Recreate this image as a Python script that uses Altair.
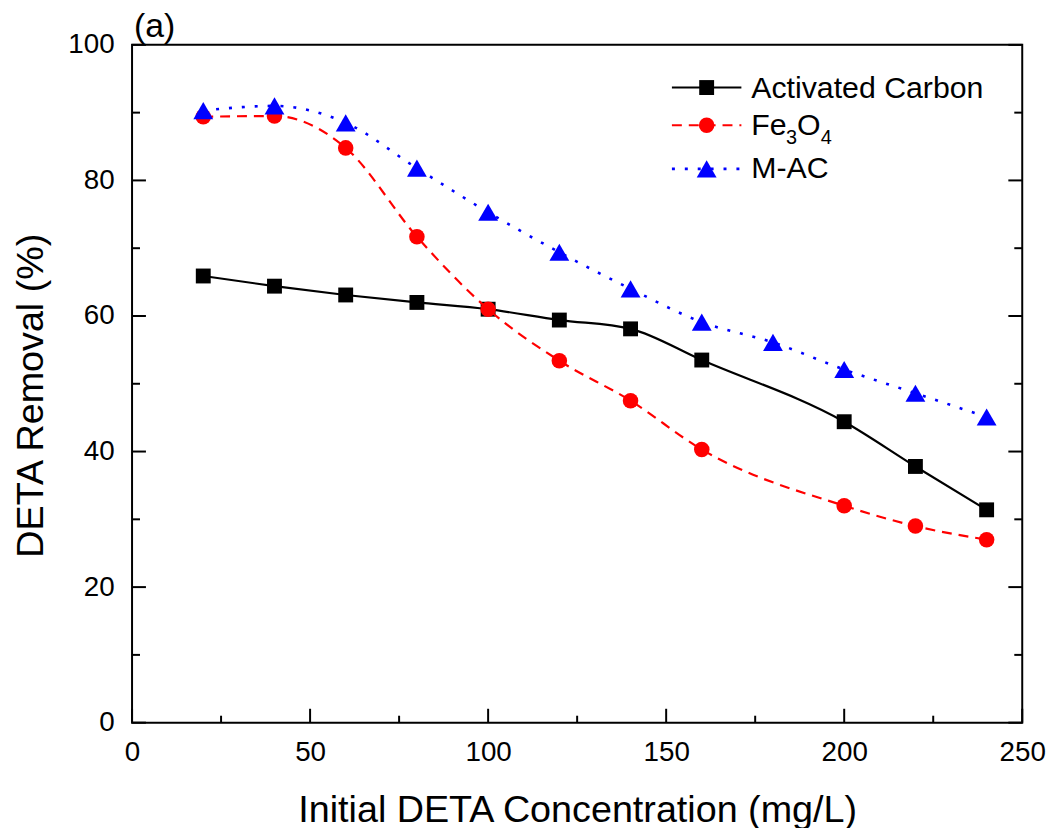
import altair as alt
import pandas as pd

# ---- data ----
conc_ac = [20, 40, 60, 80, 100, 120, 140, 160, 200, 220, 240]
removal_ac = [65.9, 64.4, 63.1, 62.0, 61.0, 59.4, 58.1, 53.5, 44.4, 37.8, 31.4]
conc_fe = [20, 40, 60, 80, 100, 120, 140, 160, 200, 220, 240]
removal_fe = [89.4, 89.5, 84.8, 71.7, 61.0, 53.4, 47.5, 40.3, 32.0, 29.0, 27.0]
conc_mac = [20, 40, 60, 80, 100, 120, 140, 160, 180, 200, 220, 240]
removal_mac = [90.3, 91.0, 88.5, 81.8, 75.3, 69.4, 64.0, 59.1, 56.1, 52.1, 48.6, 45.1]
series_names = ["Activated Carbon", "Fe3O4", "M-AC"]

x_major = [0, 50, 100, 150, 200, 250]
x_minor = [25, 75, 125, 175, 225]
y_major = [0, 20, 40, 60, 80, 100]
y_minor = [10, 30, 50, 70, 90]

W, H = 897, 683
FONT = "Liberation Sans"

xaxis = alt.Axis(values=x_major, ticks=False, domain=False, grid=False,
                 labelFlush=False, labelOverlap=False, labelPadding=16,
                 title="Initial DETA Concentration (mg/L)",
                 titleY=100, titleBaseline="alphabetic")
yaxis = alt.Axis(values=y_major, ticks=False, domain=False, grid=False,
                 labelFlush=False, labelOverlap=False, labelPadding=18,
                 title="DETA Removal (%)", titleX=-90, titleY=353,
                 titleAngle=270, titleBaseline="alphabetic")

xs = alt.Scale(domain=[0, 250], nice=False, zero=False)
ys = alt.Scale(domain=[0, 100], nice=False, zero=False)


def X():
    return alt.X("conc:Q", scale=xs, axis=xaxis)


def Y():
    return alt.Y("removal:Q", scale=ys, axis=yaxis)


# ---- tick marks (inward) ----
ytick_major = pd.DataFrame({"removal": y_major})
ytick_minor = pd.DataFrame({"removal": y_minor})
xtick_major = pd.DataFrame({"conc": x_major})
xtick_minor = pd.DataFrame({"conc": x_minor})

tick_style = dict(color="black", strokeWidth=2)
ticks = [
    alt.Chart(ytick_major).mark_rule(**tick_style).encode(y=Y(), x=alt.value(0), x2=alt.value(14)),
    alt.Chart(ytick_minor).mark_rule(**tick_style).encode(y=Y(), x=alt.value(0), x2=alt.value(8)),
    alt.Chart(ytick_major).mark_rule(**tick_style).encode(y=Y(), x=alt.value(W - 14), x2=alt.value(W)),
    alt.Chart(ytick_minor).mark_rule(**tick_style).encode(y=Y(), x=alt.value(W - 8), x2=alt.value(W)),
    alt.Chart(xtick_major).mark_rule(**tick_style).encode(x=X(), y=alt.value(H - 14), y2=alt.value(H)),
    alt.Chart(xtick_minor).mark_rule(**tick_style).encode(x=X(), y=alt.value(H - 7), y2=alt.value(H)),
]

# ---- series ----
specs = [
    (conc_ac, removal_ac, "#000000", None, 2.2, "square", 225),
    (conc_fe, removal_fe, "#ff0000", [10, 7], 2.2, "circle", 245),
    (conc_mac, removal_mac, "#0000ff", [3, 10], 2.6, "triangle-up", 400),
]

series_layers = []
for (cx, cy, col, dash, sw, shape, size), name in zip(specs, series_names):
    df = pd.DataFrame({"conc": cx, "removal": cy, "series": name})
    line_kw = dict(color=col, strokeWidth=sw, interpolate="monotone")
    if dash:
        line_kw["strokeDash"] = dash
    base = alt.Chart(df)
    series_layers.append(base.mark_line(**line_kw).encode(x=X(), y=Y()))
    series_layers.append(
        base.mark_point(filled=True, shape=shape, size=size, color=col, opacity=1)
        .encode(x=X(), y=Y())
    )

# ---- legend (drawn manually) ----
legend_layers = []
leg_rows = [43, 81, 125]
leg_text_y = [54, 91, 134]
for i, ((cx, cy, col, dash, sw, shape, size), name) in enumerate(zip(specs, series_names)):
    ldf = pd.DataFrame({"series": [name]})
    rule_kw = dict(color=col, strokeWidth=sw)
    if dash:
        rule_kw["strokeDash"] = dash
    legend_layers.append(
        alt.Chart(ldf).mark_rule(**rule_kw).encode(
            x=alt.value(544), x2=alt.value(614), y=alt.value(leg_rows[i]))
    )
    legend_layers.append(
        alt.Chart(ldf).mark_point(filled=True, shape=shape, size=size, color=col, opacity=1)
        .encode(x=alt.value(579), y=alt.value(leg_rows[i]))
    )

txt = dict(font=FONT, color="black", align="left", baseline="alphabetic")
legend_layers.append(
    alt.Chart(pd.DataFrame({"t": ["Activated Carbon"]})).mark_text(fontSize=30.5, **txt)
    .encode(text="t:N", x=alt.value(624), y=alt.value(leg_text_y[0]))
)
# Fe3O4 with subscripts
for t, xpx, fs, dy in [("Fe", 624, 30.5, 0), ("3", 659, 20, 9), ("O", 670, 30.5, 0), ("4", 694, 20, 9)]:
    legend_layers.append(
        alt.Chart(pd.DataFrame({"t": [t]})).mark_text(fontSize=fs, **txt)
        .encode(text="t:N", x=alt.value(xpx), y=alt.value(leg_text_y[1] + dy))
    )
legend_layers.append(
    alt.Chart(pd.DataFrame({"t": ["M-AC"]})).mark_text(fontSize=30.5, **txt)
    .encode(text="t:N", x=alt.value(624), y=alt.value(leg_text_y[2]))
)

# panel label
panel = alt.Chart(pd.DataFrame({"t": ["(a)"]})).mark_text(fontSize=34, **txt).encode(
    text="t:N", x=alt.value(2), y=alt.value(-8))

chart = alt.layer(*ticks, *series_layers, *legend_layers, panel).properties(
    width=W, height=H,
    autosize=alt.AutoSizeParams(type="none"),
    padding={"left": 125, "top": 34, "right": 31, "bottom": 103},
).configure_view(stroke="black", strokeWidth=2).configure_axis(
    labelFont=FONT, labelFontSize=28, labelColor="black",
    titleFont=FONT, titleFontSize=38, titleFontWeight="normal", titleColor="black",
)

chart.save("out.html", embed_options={"renderer": "svg", "actions": False})
